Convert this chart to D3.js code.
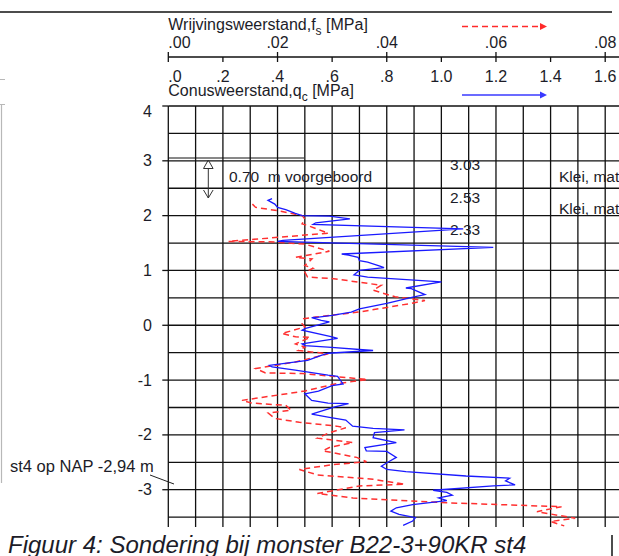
<!DOCTYPE html>
<html>
<head>
<meta charset="utf-8">
<script src="https://cdn.jsdelivr.net/npm/d3@7"></script>
<style>
	body { margin: 0; background: #fff; }
	svg { display: block; }
	text { font-family: "Liberation Sans", Arial, sans-serif; fill: #1c1c28; white-space: pre; }
</style>
</head>
<body>
<div id="chart"></div>
<script>
// conusweerstand qc [MPa] against depth [m NAP]
var qcDepth = [2.31, 2.28, 2.21, 2.15, 2.11, 2.04, 2.0, 1.99, 1.94, 1.87, 1.84, 1.76, 1.55, 1.53, 1.42, 1.30, 1.28, 1.24, 1.18, 1.15, 1.08, 1.05, 1.0, 0.92, 0.88, 0.79, 0.68, 0.67, 0.56, 0.52, 0.40, 0.30,
	0.24, 0.18, 0.15, 0.14, 0.09, 0.06, -0.06, -0.09, -0.21, -0.24, -0.34, -0.37, -0.40, -0.46, -0.51, -0.55, -0.64, -0.73, -0.76, -0.82, -0.91, -0.93, -1.07, -1.10, -1.20, -1.25, -1.37, -1.42, -1.43, -1.49, -1.62, -1.68, -1.73,
	-1.84, -1.88, -1.91, -1.96, -2.05, -2.14, -2.23, -2.29, -2.30, -2.41, -2.48, -2.57, -2.63, -2.67, -2.75, -2.79, -2.84, -2.91, -2.93, -3.01, -3.05, -3.10, -3.15, -3.20, -3.27, -3.33, -3.39, -3.45, -3.51, -3.57, -3.65];
var qcValue = [0.38, 0.365, 0.39, 0.40, 0.43, 0.465, 0.49, 0.59, 0.665, 0.54, 0.53, 1.08, 0.42, 0.40, 1.19, 0.635, 0.66, 0.695, 0.70, 0.73, 0.775, 0.79, 0.70, 0.68, 0.73, 1.0, 0.87, 0.89, 0.94, 0.90, 0.80, 0.70,
	0.67, 0.60, 0.55, 0.525, 0.56, 0.59, 0.50, 0.49, 0.60, 0.62, 0.49, 0.50, 0.585, 0.75, 0.585, 0.56, 0.51, 0.37, 0.38, 0.465, 0.585, 0.62, 0.64, 0.60, 0.55, 0.50, 0.525, 0.585, 0.66, 0.61, 0.525, 0.59, 0.65,
	0.675, 0.75, 0.865, 0.755, 0.75, 0.835, 0.72, 0.725, 0.80, 0.835, 0.81, 0.78, 0.80, 0.87, 1.09, 1.25, 1.235, 1.27, 1.19, 0.97, 1.02, 1.04, 0.99, 1.02, 0.895, 0.835, 0.815, 0.845, 0.905, 0.895, 0.86];

// wrijvingsweerstand fs [MPa] against depth [m NAP]
var fsDepth = [2.21, 2.15, 2.09, 2.0, 1.94, 1.85, 1.82, 1.68, 1.53, 1.52, 1.48, 1.35, 1.24, 1.21, 1.09, 1.04, 0.97, 0.88, 0.85, 0.73, 0.64, 0.52, 0.45, 0.40, 0.24, 0.15, 0.12, 0.03,
	-0.03, -0.15, -0.21, -0.22, -0.34, -0.40, -0.46, -0.52, -0.67, -0.79, -0.87, -0.88, -0.99, -1.07, -1.20, -1.37, -1.42, -1.46, -1.55, -1.60, -1.70, -1.77, -1.84, -1.87, -1.96, -2.06, -2.14,
	-2.23, -2.29, -2.41, -2.49, -2.54, -2.63, -2.73, -2.81, -2.90, -2.93, -3.07, -3.15, -3.24, -3.31, -3.40, -3.52, -3.58, -3.66];
var fsValue = [0.0154, 0.016, 0.020, 0.0245, 0.025, 0.0245, 0.0255, 0.0293, 0.011, 0.0195, 0.025, 0.0295, 0.0233, 0.0263, 0.025, 0.0265, 0.025, 0.0255, 0.0303, 0.039, 0.0375, 0.0415, 0.047, 0.0445, 0.0348, 0.027, 0.0248, 0.0245,
	0.025, 0.0208, 0.0233, 0.026, 0.0233, 0.025, 0.0238, 0.0293, 0.0233, 0.016, 0.0178, 0.0245, 0.0365, 0.0305, 0.025, 0.0135, 0.0153, 0.0215, 0.0225, 0.0183, 0.0195, 0.024, 0.0308, 0.0325, 0.0295, 0.0273, 0.0338,
	0.0295, 0.0283, 0.0345, 0.0363, 0.0303, 0.024, 0.0273, 0.0375, 0.0433, 0.035, 0.0273, 0.0338, 0.0515, 0.072, 0.0675, 0.0745, 0.070, 0.0725];

var qcTicks = [0, 0.2, 0.4, 0.6, 0.8, 1.0, 1.2, 1.4, 1.6];
var qcTickLabels = [".0", ".2", ".4", ".6", ".8", "1.0", "1.2", "1.4", "1.6"];
var fsTicks = [0, 0.02, 0.04, 0.06, 0.08];
var fsTickLabels = [".00", ".02", ".04", ".06", ".08"];
var depthTicks = [4, 3, 2, 1, 0, -1, -2, -3];

var layerDepth = [3.03, 2.53, 2.33];
var layerLabels = ["3.03", "2.53", "2.33"];
var soilLabels = ["Klei, matig siltig", "Klei, matig siltig"];

var width = 619,
	height = 556;

var svg = d3.select("#chart")
	.append("svg")
	.attr("width", width)
	.attr("height", height);

var x = d3.scaleLinear().domain([0, 1.6]).range([168.3, 605.2]);
var xfs = d3.scaleLinear().domain([0, 0.08]).range([168.3, 605.2]);
var y = d3.scaleLinear().domain([4, -3.68]).range([106, 527]);

// top rule
svg.append("line")
	.attr("x1", 0).attr("x2", 612)
	.attr("y1", 12).attr("y2", 12)
	.attr("stroke", "#111").attr("stroke-width", 1.5);

// left remains of the neighbouring figure
svg.append("path")
	.attr("d", "M0,79.5H5M0,104.5H5M1.5,104V483")
	.attr("fill", "none").attr("stroke", "#b8b8b8").attr("stroke-width", 1.2);

// grid
var gridX = d3.range(0, 17).map(function (i) { return i / 10; });
var gridY = d3.range(0, 16).map(function (i) { return 4 - i / 2; });

svg.append("g")
	.selectAll("line")
	.data(gridX)
	.enter()
	.append("line")
	.attr("x1", function (d) { return x(d); })
	.attr("x2", function (d) { return x(d); })
	.attr("y1", y(4))
	.attr("y2", y(-3.68))
	.attr("stroke", "#111")
	.attr("stroke-width", 1.3);

svg.append("g")
	.selectAll("line")
	.data(gridY)
	.enter()
	.append("line")
	.attr("x1", x(0))
	.attr("x2", width)
	.attr("y1", function (d) { return y(d); })
	.attr("y2", function (d) { return y(d); })
	.attr("stroke", "#111")
	.attr("stroke-width", 1.3);

// depth axis
svg.append("g")
	.selectAll("line")
	.data(depthTicks)
	.enter()
	.append("line")
	.attr("x1", x(0) - 6)
	.attr("x2", x(0))
	.attr("y1", function (d) { return y(d); })
	.attr("y2", function (d) { return y(d); })
	.attr("stroke", "#111")
	.attr("stroke-width", 1.3);

svg.append("g")
	.selectAll("text")
	.data(depthTicks)
	.enter()
	.append("text")
	.attr("x", 152)
	.attr("y", function (d, i) { return y(d) + (i === 0 ? 11 : 5.5); })
	.attr("text-anchor", "end")
	.style("font-size", "16px")
	.text(function (d) { return d; });

// top axis
var axisY = 57;
svg.append("line")
	.attr("x1", x(0)).attr("x2", width)
	.attr("y1", axisY).attr("y2", axisY)
	.attr("stroke", "#111").attr("stroke-width", 1.3);

svg.append("g")
	.selectAll("line")
	.data(fsTicks)
	.enter()
	.append("line")
	.attr("x1", function (d) { return xfs(d); })
	.attr("x2", function (d) { return xfs(d); })
	.attr("y1", axisY - 5)
	.attr("y2", axisY)
	.attr("stroke", "#111").attr("stroke-width", 1.3);

svg.append("g")
	.selectAll("line")
	.data(qcTicks)
	.enter()
	.append("line")
	.attr("x1", function (d) { return x(d); })
	.attr("x2", function (d) { return x(d); })
	.attr("y1", axisY)
	.attr("y2", axisY + 5)
	.attr("stroke", "#111").attr("stroke-width", 1.3);

svg.append("g")
	.selectAll("text")
	.data(fsTicks)
	.enter()
	.append("text")
	.attr("x", function (d) { return xfs(d); })
	.attr("y", 48)
	.attr("text-anchor", function (d, i) { return i === 0 ? "start" : "middle"; })
	.style("font-size", "16px")
	.text(function (d, i) { return fsTickLabels[i]; });

svg.append("g")
	.selectAll("text")
	.data(qcTicks)
	.enter()
	.append("text")
	.attr("x", function (d) { return x(d); })
	.attr("y", 81.5)
	.attr("text-anchor", function (d, i) { return i === 0 ? "start" : "middle"; })
	.style("font-size", "16px")
	.text(function (d, i) { return qcTickLabels[i]; });

function axisTitle(label, sub, yPos) {
	var t = svg.append("text")
		.attr("x", x(0))
		.attr("y", yPos)
		.style("font-size", "16px");
	t.append("tspan").text(label);
	t.append("tspan").attr("dy", 5).style("font-size", "12px").text(sub);
	t.append("tspan").attr("dy", -5).text(" [MPa]");
}
axisTitle("Wrijvingsweerstand,f", "s", 30);
axisTitle("Conusweerstand,q", "c", 95.5);

// legend arrows
svg.append("line")
	.attr("x1", 462).attr("x2", 541)
	.attr("y1", 26.5).attr("y2", 26.5)
	.attr("stroke", "#ff2a2a").attr("stroke-width", 1.5)
	.attr("stroke-dasharray", "6,4");
svg.append("path")
	.attr("d", "M540,23L547,26.5L540,30Z")
	.attr("fill", "#ff2a2a");
svg.append("line")
	.attr("x1", 462).attr("x2", 541)
	.attr("y1", 95).attr("y2", 95)
	.attr("stroke", "#3a3aff").attr("stroke-width", 1.5);
svg.append("path")
	.attr("d", "M540,91.5L547,95L540,98.5Z")
	.attr("fill", "#3a3aff");

// voorgeboord
svg.append("line")
	.attr("x1", x(0)).attr("x2", 304)
	.attr("y1", 158).attr("y2", 158)
	.attr("stroke", "#111").attr("stroke-width", 1);
svg.append("path")
	.attr("d", "M208.3,160L203.5,168.5H213.1Z M208.3,168.5V198 M203.5,190L208.3,198L213.1,190")
	.attr("fill", "none").attr("stroke", "#333").attr("stroke-width", 1);
svg.append("text")
	.attr("x", 229).attr("y", 182)
	.style("font-size", "15.5px")
	.text("0.70  m voorgeboord");

// layer boundaries
svg.append("g")
	.selectAll("text")
	.data(layerDepth)
	.enter()
	.append("text")
	.attr("x", 450)
	.attr("y", function (d, i) { return [170, 203, 235][i]; })
	.style("font-size", "15.5px")
	.text(function (d, i) { return layerLabels[i]; });

svg.append("g")
	.selectAll("text")
	.data(soilLabels)
	.enter()
	.append("text")
	.attr("x", 559)
	.attr("y", function (d, i) { return [181.5, 214][i]; })
	.style("font-size", "15.5px")
	.text(function (d) { return d; });

// cone data
var qcLine = d3.line()
	.x(function (d, i) { return x(qcValue[i]); })
	.y(function (d) { return y(d); });
var fsLine = d3.line()
	.x(function (d, i) { return xfs(fsValue[i]); })
	.y(function (d) { return y(d); });

svg.append("path")
	.datum(fsDepth)
	.attr("d", fsLine)
	.attr("fill", "none")
	.attr("stroke", "#ff3030")
	.attr("stroke-width", 1.5)
	.attr("stroke-dasharray", "6,4");

svg.append("path")
	.datum(qcDepth)
	.attr("d", qcLine)
	.attr("fill", "none")
	.attr("stroke", "#1a1aff")
	.attr("stroke-width", 1.3);

// sample marker
svg.append("text")
	.attr("x", 10).attr("y", 472)
	.style("font-size", "16.5px")
	.text("st4 op NAP -2,94 m");
svg.append("line")
	.attr("x1", 150).attr("y1", 475)
	.attr("x2", 174).attr("y2", 484)
	.attr("stroke", "#222").attr("stroke-width", 1);

// caption
svg.append("text")
	.attr("x", 8).attr("y", 553)
	.style("font-size", "24px")
	.style("font-style", "italic")
	.text("Figuur 4: Sondering bij monster B22-3+90KR st4");
svg.append("line")
	.attr("x1", 612).attr("x2", 612)
	.attr("y1", 535).attr("y2", 556)
	.attr("stroke", "#111").attr("stroke-width", 1.5);
</script>
</body>
</html>
